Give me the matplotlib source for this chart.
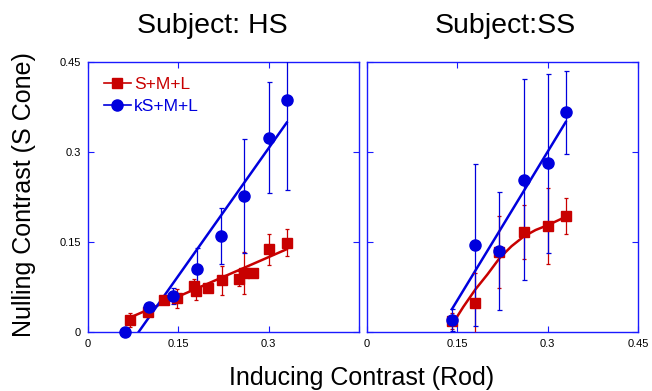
import matplotlib
matplotlib.use("Agg")
import matplotlib.pyplot as plt
from matplotlib.lines import Line2D

plt.rcParams['font.family'] = ['Liberation Sans', 'DejaVu Sans']

# ---------------- data ----------------
# Subject HS
hs_red_x = [0.07, 0.10, 0.126, 0.148, 0.176, 0.18, 0.20, 0.222, 0.25, 0.259, 0.274, 0.30, 0.33]
hs_red_y = [0.020, 0.034, 0.054, 0.056, 0.077, 0.068, 0.074, 0.086, 0.089, 0.099, 0.099, 0.138, 0.149]
hs_red_err = [0.011, 0.005, 0.005, 0.016, 0.012, 0.015, 0.005, 0.024, 0.012, 0.035, 0.005, 0.026, 0.022]

hs_blue_x = [0.061, 0.101, 0.141, 0.181, 0.221, 0.259, 0.30, 0.33]
hs_blue_y = [0.0, 0.042, 0.060, 0.105, 0.160, 0.226, 0.324, 0.387]
hs_blue_err = [0.0, 0.004, 0.013, 0.035, 0.046, 0.095, 0.093, 0.15]

hs_red_fit_x = [0.065, 0.33]
hs_red_fit_y = [0.022, 0.138]
hs_blue_fit_x = [0.084, 0.33]
hs_blue_fit_y = [0.0, 0.349]

# Subject SS
ss_x = [0.141, 0.18, 0.22, 0.26, 0.30, 0.33]
ss_red_y = [0.018, 0.048, 0.133, 0.166, 0.177, 0.193]
ss_red_err = [0.013, 0.05, 0.06, 0.045, 0.063, 0.03]
ss_blue_y = [0.020, 0.145, 0.135, 0.254, 0.281, 0.366]
ss_blue_err = [0.018, 0.135, 0.099, 0.168, 0.149, 0.069]

ss_red_fit_x = [0.141, 0.16, 0.18, 0.20, 0.22, 0.24, 0.26, 0.28, 0.30, 0.33]
ss_red_fit_y = [0.012, 0.042, 0.071, 0.096, 0.123, 0.143, 0.159, 0.170, 0.178, 0.192]
ss_blue_fit_x = [0.141, 0.33]
ss_blue_fit_y = [0.038, 0.350]

ticks = [0, 0.15, 0.3, 0.45]
tick_labels = ['0', '0.15', '0.3', '0.45']
series_labels = ['S+M+L', 'kS+M+L']
titles = ['Subject: HS', 'Subject:SS']

RED = '#c80000'
BLUE = '#0000dd'
FRAME = '#1a1aff'

fig = plt.figure(figsize=(6.52, 3.91), dpi=100)
axL = fig.add_axes([0.135, 0.1509, 0.4156, 0.6905])
axR = fig.add_axes([0.5629, 0.1509, 0.4156, 0.6905])


def draw(ax, rx, ry, rerr, bx, by, berr, rfx, rfy, bfx, bfy):
    ax.plot(rfx, rfy, color=RED, lw=1.8, zorder=2)
    ax.plot(bfx, bfy, color=BLUE, lw=1.8, zorder=2)
    ax.errorbar(rx, ry, yerr=rerr, fmt='none', ecolor=RED, elinewidth=0.9,
                capsize=1.6, capthick=0.9, zorder=3)
    ax.errorbar(bx, by, yerr=berr, fmt='none', ecolor=BLUE, elinewidth=0.9,
                capsize=1.8, capthick=0.9, zorder=3)
    ax.plot(rx, ry, ls='none', marker='s', ms=7.5, color=RED, zorder=4, clip_on=False)
    ax.plot(bx, by, ls='none', marker='o', ms=8, color=BLUE, zorder=5, clip_on=False)
    ax.set_xlim(0, 0.45)
    ax.set_ylim(0, 0.45)
    ax.set_xticks(ticks)
    ax.set_yticks(ticks)
    for s in ax.spines.values():
        s.set_color(FRAME)
        s.set_linewidth(1.0)
    ax.tick_params(direction='in', top=True, right=True, color=FRAME,
                   length=4, width=0.8, labelsize=8, pad=5)


draw(axL, hs_red_x, hs_red_y, hs_red_err, hs_blue_x, hs_blue_y, hs_blue_err,
     hs_red_fit_x, hs_red_fit_y, hs_blue_fit_x, hs_blue_fit_y)
draw(axR, ss_x, ss_red_y, ss_red_err, ss_x, ss_blue_y, ss_blue_err,
     ss_red_fit_x, ss_red_fit_y, ss_blue_fit_x, ss_blue_fit_y)

axL.set_xticklabels(tick_labels[:3] + [''])
axL.set_yticklabels(tick_labels)
axR.set_xticklabels(tick_labels)
axR.set_yticklabels([''] * 4)

handles = [Line2D([], [], color=RED, lw=1.2, marker='s', ms=7.5),
           Line2D([], [], color=BLUE, lw=1.2, marker='o', ms=8)]
leg = axL.legend(handles, series_labels, loc='upper left', frameon=False,
                 fontsize=12.5, handlelength=1.55, handletextpad=0.2,
                 labelspacing=0.4, borderaxespad=0.2, bbox_to_anchor=(0.02, 0.985))
for t, c in zip(leg.get_texts(), [RED, BLUE]):
    t.set_color(c)

fig.text(212 / 652, 1 - 26 / 391, titles[0], ha='center', va='center', fontsize=20.5)
fig.text(505 / 652, 1 - 26 / 391, titles[1], ha='center', va='center', fontsize=20.5)
fig.text(362 / 652, 1 - 378 / 391, 'Inducing Contrast (Rod)', ha='center', va='center', fontsize=18)
fig.text(24 / 652, 1 - 195 / 391, 'Nulling Contrast (S Cone)', ha='center', va='center',
         rotation=90, fontsize=18)

fig.savefig('out.png', dpi=100)
